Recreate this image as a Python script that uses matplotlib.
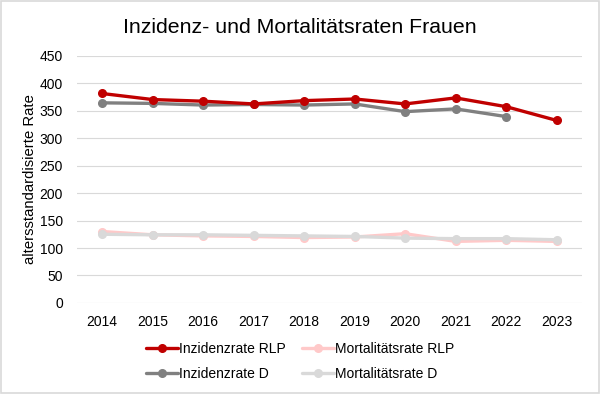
import matplotlib
matplotlib.use("Agg")
import matplotlib.pyplot as plt
from matplotlib.patches import Rectangle

plt.rcParams["font.family"] = ["Liberation Sans", "DejaVu Sans"]

# data
years = ["2014", "2015", "2016", "2017", "2018", "2019", "2020", "2021", "2022", "2023"]
inz_rlp = [381, 370, 367, 362, 368, 371, 362, 373, 357, 332]
mort_rlp = [130, 124, 122, 121, 119, 120, 126, 112, 114, 112]
inz_d = [364, 363, 360, 361, 360, 362, 348, 353, 339]
mort_d = [125, 124, 124, 123, 122, 121, 118, 117, 117, 115]
yticks = [0, 50, 100, 150, 200, 250, 300, 350, 400, 450]

series = [
    ("Inzidenzrate RLP", inz_rlp, "#C00000"),
    ("Mortalitätsrate RLP", mort_rlp, "#FFC9C9"),
    ("Inzidenzrate D", inz_d, "#808080"),
    ("Mortalitätsrate D", mort_d, "#D9D9D9"),
]

fig = plt.figure(figsize=(6.0, 3.94), dpi=100)
ax = fig.add_axes([0.128, 0.231, 0.842, 0.628])

# draw lighter series first so the dark ones sit on top
order = [1, 3, 2, 0]
handles = {}
for i in order:
    label, vals, col = series[i]
    x = list(range(len(vals)))
    (ln,) = ax.plot(x, vals, color=col, linewidth=2.4, marker="o",
                    markersize=5.5, label=label, solid_capstyle="round")
    handles[i] = ln

ax.set_xlim(-0.5, len(years) - 0.5)
ax.set_ylim(0, 450)
ax.set_xticks(range(len(years)))
ax.set_xticklabels(years)
ax.set_yticks(yticks)
ax.tick_params(length=0, labelsize=10, colors="#000000")
ax.tick_params(axis="x", pad=9)
ax.tick_params(axis="y", pad=10)
ax.grid(axis="y", color="#D9D9D9", linewidth=0.8)
ax.set_axisbelow(True)
for s in ax.spines.values():
    s.set_visible(False)

ax.set_ylabel("altersstandardisierte Rate", fontsize=10.7, labelpad=2)

fig.text(0.5, 0.9155, "Inzidenz- und Mortalitätsraten Frauen",
         ha="center", va="baseline", fontsize=15.3)

# legend fills column by column, so pass entries in that order
leg_order = [0, 2, 1, 3]
fig.legend([handles[i] for i in leg_order],
           [series[i][0] for i in leg_order],
           loc="upper center", bbox_to_anchor=(0.5, 0.163), ncol=2,
           frameon=False, fontsize=10, handlelength=2.3, handletextpad=0.1,
           columnspacing=1.15, labelspacing=0.75)

# light frame round the whole picture
fig.patches.append(Rectangle((0.002, 0.003), 0.996, 0.994, transform=fig.transFigure,
                             fill=False, edgecolor="#D9D9D9", linewidth=1.2))

fig.savefig("out.png", dpi=100)
